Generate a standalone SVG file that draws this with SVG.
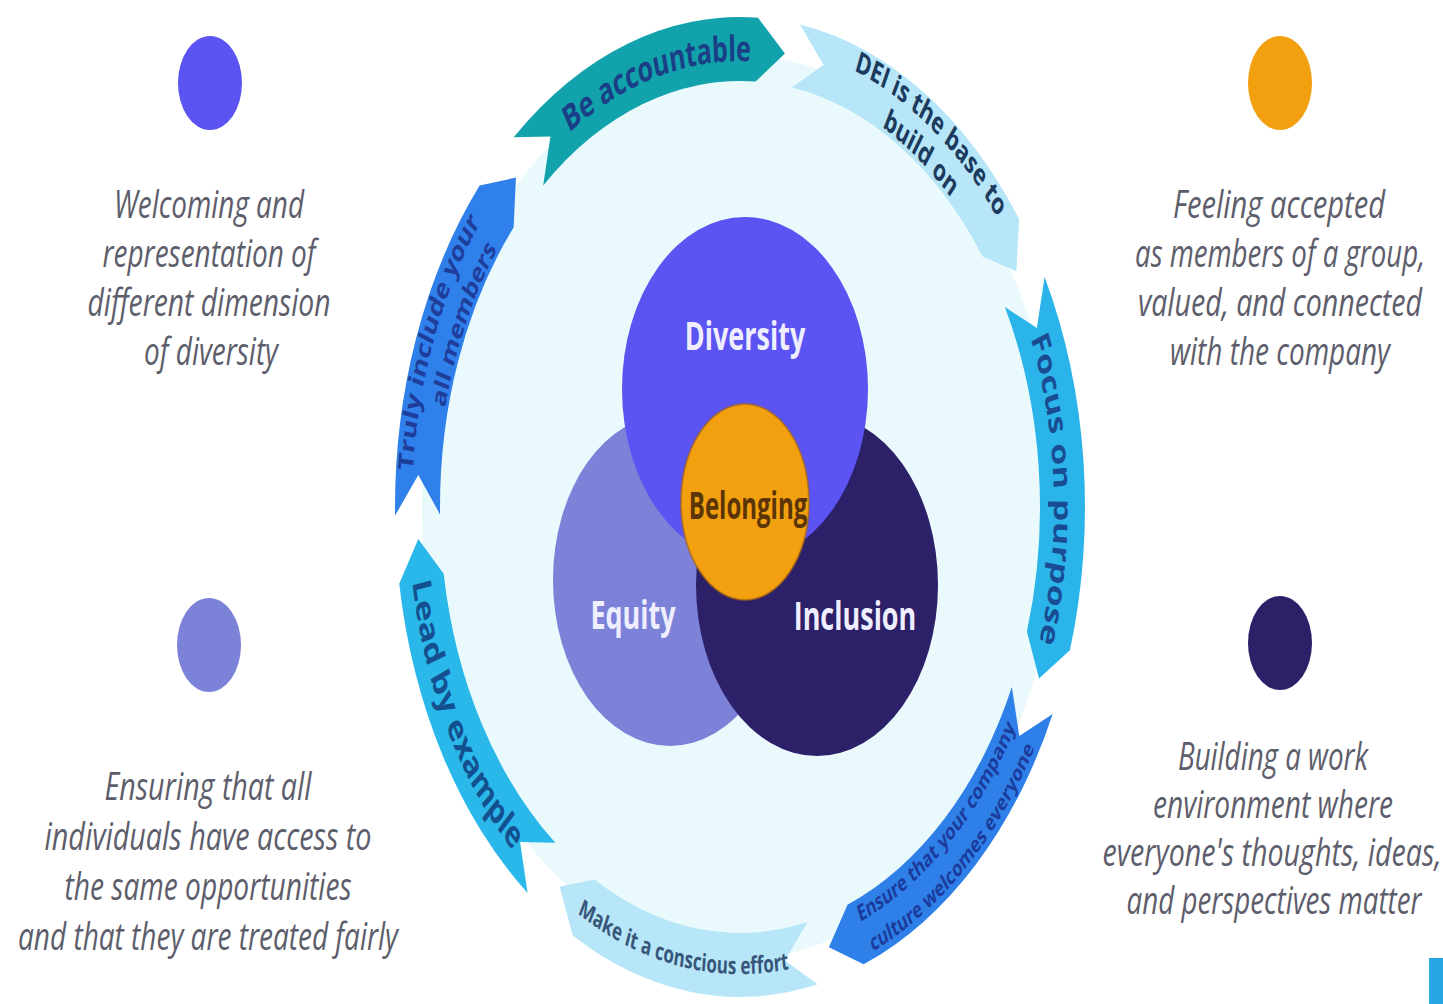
<svg xmlns="http://www.w3.org/2000/svg" width="1443" height="1004" viewBox="0 0 1443 1004">
<style>
.side{font-family:"Open Sans","Liberation Sans",sans-serif;font-style:italic;font-size:27px;fill:#5d5d6b;text-anchor:middle;}
.venn{font-family:"Open Sans","Liberation Sans",sans-serif;font-weight:700;font-size:27px;fill:#eeeeff;text-anchor:middle;}
.ring{font-family:"Open Sans","Liberation Sans",sans-serif;font-weight:700;}
</style>
<rect width="1443" height="1004" fill="#ffffff"/>

<g id="ring" transform="translate(740,507) scale(1,1.42)">
  <defs>
    <path id="tpBe" d="M -201.84 -240.54 A 314 314 0 0 1 49.12 -310.13"/>
    <path id="tpDEI1" d="M 56.96 -323.01 A 328 328 0 0 1 289.61 -153.99"/>
    <path id="tpDEI2" d="M 52.61 -298.40 A 303 303 0 0 1 267.53 -142.25"/>
    <path id="tpFocus" d="M 279.78 -142.55 A 314 314 0 0 1 290.31 119.66"/>
    <path id="tpEns1" d="M 87.10 303.76 A 316 316 0 0 0 290.88 123.47"/>
    <path id="tpEns2" d="M 93.72 326.83 A 340 340 0 0 0 312.97 132.85"/>
    <path id="tpMake" d="M -183.97 272.75 A 329 329 0 0 0 74.01 320.57"/>
    <path id="tpLead" d="M -331.55 17.38 A 332 332 0 0 0 -199.80 265.15"/>
    <path id="tpTruly1" d="M -327.20 22.88 A 328 328 0 0 1 -227.85 -235.94"/>
    <path id="tpTruly2" d="M -303 0 A 303 303 0 0 1 -194.77 -232.11"/>
  </defs>
  <circle id="inner-disk" cx="0" cy="0" r="318" fill="#eaf9fc"/>

  <g id="seg-accountable">
    <path d="M -226.34 -260.37 A 345 345 0 0 1 18.06 -344.53 L 44.88 -319.36 L 15.70 -299.59 A 300 300 0 0 0 -196.82 -226.41 L -189.56 -260.91 Z" fill="#12a2ab"/>
    <text class="ring" font-size="25" fill="#1b3f86"><textPath href="#tpBe" startOffset="50%" text-anchor="middle">Be accountable</textPath></text>
  </g>
  <g id="seg-dei">
    <path d="M 59.91 -339.76 A 345 345 0 0 1 279.11 -202.79 L 276.44 -166.10 L 242.71 -176.34 A 300 300 0 0 0 52.10 -295.44 L 83.47 -311.51 Z" fill="#b6e6f7"/>
    <text class="ring" font-size="21" fill="#1c3a5e"><textPath href="#tpDEI1" startOffset="50%" text-anchor="middle">DEI is the base to</textPath></text>
    <text class="ring" font-size="21" fill="#1c3a5e"><textPath href="#tpDEI2" startOffset="50%" text-anchor="middle">build on</textPath></text>
  </g>
  <g id="seg-focus">
    <path d="M 304.62 -161.97 A 345 345 0 0 1 329.92 100.87 L 299.02 120.81 L 286.89 87.71 A 300 300 0 0 0 264.89 -140.84 L 296.86 -126.01 Z" fill="#2bb4ea"/>
    <text class="ring" font-size="25" fill="#1a4c94"><textPath href="#tpFocus" startOffset="50%" text-anchor="middle">Focus on purpose</textPath></text>
  </g>
  <g id="seg-ensure">
    <path d="M 312.68 145.80 A 345 345 0 0 1 123.64 322.09 L 88.89 310.01 L 107.51 280.07 A 300 300 0 0 0 271.89 126.79 L 279.29 161.25 Z" fill="#2e80e8"/>
    <text class="ring" font-size="16" fill="#1b3c9c"><textPath href="#tpEns1" startOffset="50%" text-anchor="middle">Ensure that your company</textPath></text>
    <text class="ring" font-size="16" fill="#1b3c9c"><textPath href="#tpEns2" startOffset="50%" text-anchor="middle">culture welcomes everyone</textPath></text>
  </g>
  <g id="seg-conscious">
    <path d="M 77.61 336.16 A 345 345 0 0 1 -167.26 301.74 L -180.34 267.37 L -145.44 262.39 A 300 300 0 0 0 67.49 292.31 L 44.88 319.36 Z" fill="#b6e6f7"/>
    <text class="ring" font-size="17" font-weight="600" fill="#37567a"><textPath href="#tpMake" startOffset="50%" text-anchor="middle">Make it a conscious effort</textPath></text>
  </g>
  <g id="seg-lead">
    <path d="M -212.40 271.86 A 345 345 0 0 1 -340.75 53.97 L -321.71 22.50 L -296.31 46.93 A 300 300 0 0 0 -184.70 236.40 L -219.95 235.86 Z" fill="#2ab7ea"/>
    <text class="ring" font-size="26" fill="#14508f"><textPath href="#tpLead" startOffset="50%" text-anchor="middle">Lead by example</textPath></text>
  </g>
  <g id="seg-include">
    <path d="M -344.95 6.02 A 345 345 0 0 1 -260.37 -226.34 L -224.03 -231.99 L -226.41 -196.82 A 300 300 0 0 0 -299.95 5.24 L -321.71 -22.50 Z" fill="#2f80ea"/>
    <text class="ring" font-size="21" fill="#1f3e9c"><textPath href="#tpTruly1" startOffset="50%" text-anchor="middle">Truly include your</textPath></text>
    <text class="ring" font-size="20" fill="#1f3e9c"><textPath href="#tpTruly2" startOffset="50%" text-anchor="middle">all members</textPath></text>
  </g>
</g>

<g id="node-equity">
  <ellipse cx="670" cy="580" rx="117" ry="166" fill="#7b82d8"/>
</g>
<g id="node-inclusion">
  <ellipse cx="817" cy="585" rx="121" ry="171" fill="#2c2068"/>
</g>
<g id="node-diversity">
  <ellipse cx="745" cy="389" rx="123" ry="172" fill="#5b53f2"/>
  <text class="venn" transform="translate(745,350) scale(1,1.45)">Diversity</text>
</g>
<text class="venn" transform="translate(633,629) scale(1,1.45)">Equity</text>
<text class="venn" transform="translate(855,630) scale(1,1.45)">Inclusion</text>
<g id="node-belonging">
  <ellipse cx="745" cy="502" rx="64" ry="98" fill="#f2a010" stroke="#a8650e" stroke-opacity="0.6" stroke-width="2"/>
  <text class="venn" style="fill:#5b3408;font-size:24px" transform="translate(748,519) scale(1,1.6)">Belonging</text>
</g>

<g id="legend-diversity">
  <ellipse cx="210" cy="83" rx="32" ry="47" fill="#5b53f2"/>
  <text class="side" transform="translate(209,218) scale(1,1.42)" textLength="190" lengthAdjust="spacingAndGlyphs">Welcoming and</text>
  <text class="side" transform="translate(209,267) scale(1,1.42)" textLength="213" lengthAdjust="spacingAndGlyphs">representation of</text>
  <text class="side" transform="translate(209,316) scale(1,1.42)" textLength="243" lengthAdjust="spacingAndGlyphs">different dimension</text>
  <text class="side" transform="translate(211,365) scale(1,1.42)" textLength="134" lengthAdjust="spacingAndGlyphs">of diversity</text>
</g>
<g id="legend-belonging">
  <ellipse cx="1280" cy="83" rx="32" ry="47" fill="#f2a010"/>
  <text class="side" transform="translate(1279,218) scale(1,1.42)" textLength="212" lengthAdjust="spacingAndGlyphs">Feeling accepted</text>
  <text class="side" transform="translate(1280,267) scale(1,1.42)" textLength="290" lengthAdjust="spacingAndGlyphs">as members of a group,</text>
  <text class="side" transform="translate(1280,316) scale(1,1.42)" textLength="284" lengthAdjust="spacingAndGlyphs">valued, and connected</text>
  <text class="side" transform="translate(1280,365) scale(1,1.42)" textLength="220" lengthAdjust="spacingAndGlyphs">with the company</text>
</g>
<g id="legend-equity">
  <ellipse cx="209" cy="645" rx="32" ry="47" fill="#7b82d8"/>
  <text class="side" transform="translate(208,800) scale(1,1.42)" textLength="207" lengthAdjust="spacingAndGlyphs">Ensuring that all</text>
  <text class="side" transform="translate(208,850) scale(1,1.42)" textLength="327" lengthAdjust="spacingAndGlyphs">individuals have access to</text>
  <text class="side" transform="translate(208,900) scale(1,1.42)" textLength="287" lengthAdjust="spacingAndGlyphs">the same opportunities</text>
  <text class="side" transform="translate(208,950) scale(1,1.42)" textLength="380" lengthAdjust="spacingAndGlyphs">and that they are treated fairly</text>
</g>
<g id="legend-inclusion">
  <ellipse cx="1280" cy="643" rx="32" ry="47" fill="#2c2068"/>
  <text class="side" transform="translate(1273,770) scale(1,1.42)" textLength="190" lengthAdjust="spacingAndGlyphs">Building a work</text>
  <text class="side" transform="translate(1273,818) scale(1,1.42)" textLength="240" lengthAdjust="spacingAndGlyphs">environment where</text>
  <text class="side" transform="translate(1272,866) scale(1,1.42)" textLength="339" lengthAdjust="spacingAndGlyphs">everyone's thoughts, ideas,</text>
  <text class="side" transform="translate(1274,914) scale(1,1.42)" textLength="295" lengthAdjust="spacingAndGlyphs">and perspectives matter</text>
</g>

<rect id="corner-bar" x="1429" y="958" width="14" height="46" fill="#27a6e3"/>
</svg>
